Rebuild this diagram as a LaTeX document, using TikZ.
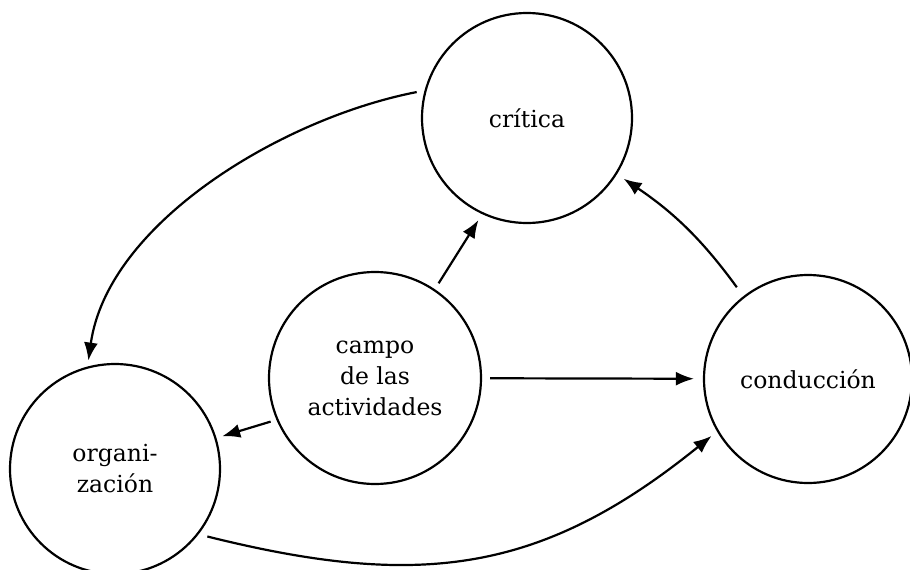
\documentclass[tikz,border=0pt]{standalone}
\usepackage{fontspec}
\setmainfont{DejaVu Serif}
\usetikzlibrary{arrows.meta}
\begin{document}
\begin{tikzpicture}[x=1pt,y=-1pt,
  field/.style={draw,circle,line width=2.2pt,inner sep=0pt,align=center,
    font=\fontsize{23.5}{31}\selectfont},
  flow/.style={line width=2.2pt,-{Latex[length=18pt,width=14pt]}},
  ]
  \useasboundingbox (0,0) rectangle (910,570);
  % the four fields
  \node[field,minimum size=210pt] (critica) at (527,118) {crítica};
  \node[field,minimum size=212pt] (campo) at (375,378) {campo\\de las\\actividades};
  \node[field,minimum size=208pt] (conduccion) at (808,379) {conducción};
  \node[field,minimum size=210pt] (organizacion) at (115,469) {organi-\\zación};
  % straight links out of the central field
  \draw[flow,shorten <=7pt,shorten >=7pt] (campo.56) -- (critica.245);
  \draw[flow,shorten <=8pt,shorten >=9pt] (campo) -- (conduccion);
  \draw[flow,shorten <=6pt,shorten >=6pt] (campo.203) -- (organizacion.17);
  % outer cycle
  \draw[flow,shorten <=11pt,shorten >=8pt] (conduccion.128) to[bend right=10] (critica.328);
  \draw[flow,shorten <=8pt,shorten >=6pt] (critica.165) to[out=191,in=82,looseness=0.85] (organizacion.105);
  \draw[flow,shorten <=9pt,shorten >=7pt] (organizacion.322) to[out=-14,in=219,looseness=1.1] (conduccion.210);
\end{tikzpicture}
\end{document}
